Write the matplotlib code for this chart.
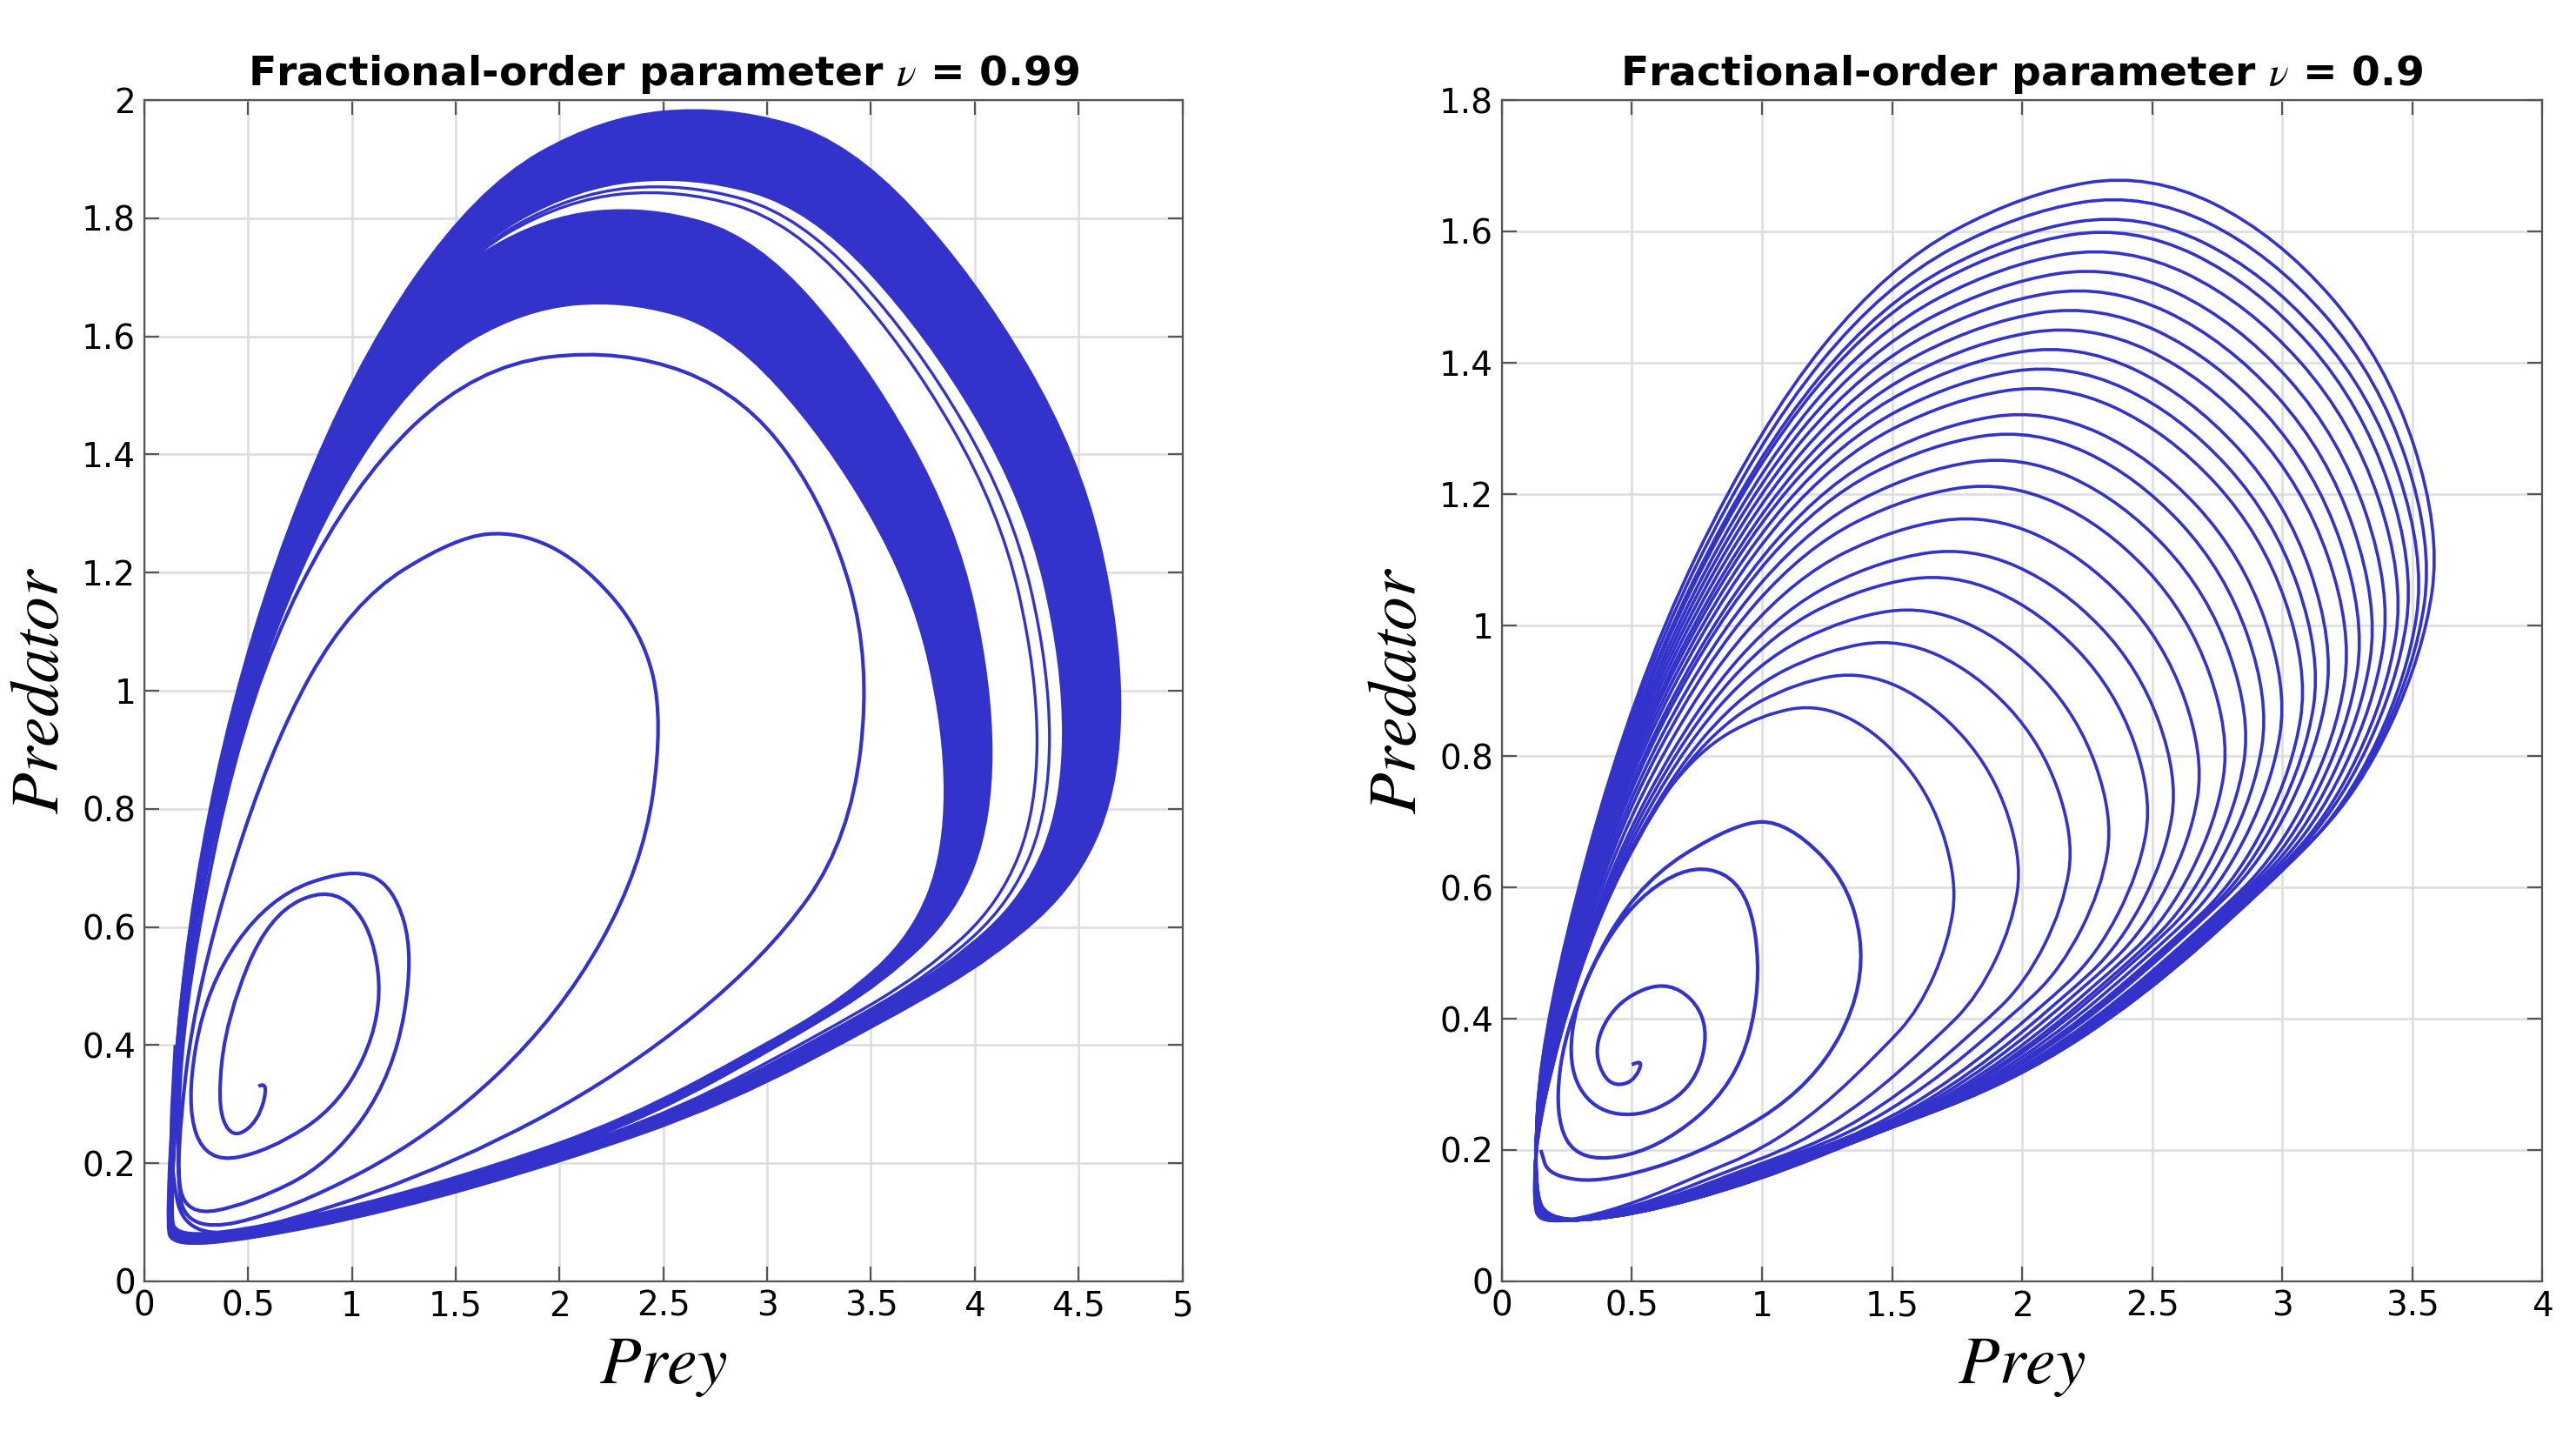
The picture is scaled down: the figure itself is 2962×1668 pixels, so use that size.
import matplotlib
matplotlib.use("Agg")
import matplotlib.pyplot as plt
from matplotlib.path import Path
from matplotlib.patches import PathPatch
import numpy as np

plt.rcParams['font.family'] = ['Liberation Sans Narrow', 'DejaVu Sans']
plt.rcParams['mathtext.fontset'] = 'stix'

BLUE = '#3333cc'

# normalised teardrop loop shapes (u across prey range, v across predator range)
left_loop_u = [0, 0.02, 0.087, 0.196, 0.326, 0.457, 0.587, 0.717, 0.848, 0.957, 1.0, 1.0, 0.957,
               0.87, 0.76, 0.587, 0.413, 0.239, 0.087, 0.01]
left_loop_v = [0.02, 0.28, 0.54, 0.77, 0.927, 0.99, 1.0, 0.969, 0.85, 0.694, 0.539, 0.41, 0.32,
               0.254, 0.2, 0.124, 0.073, 0.031, 0.005, 0]
right_loop_u = [0, 0.01, 0.11, 0.25, 0.39, 0.54, 0.68, 0.82, 0.94, 1.0, 0.98, 0.91, 0.82,
                0.68, 0.54, 0.39, 0.25, 0.11, 0.02]
right_loop_v = [0.03, 0.19, 0.51, 0.76, 0.91, 0.98, 1.0, 0.94, 0.82, 0.66, 0.54, 0.41, 0.33,
                0.22, 0.14, 0.09, 0.04, 0.006, 0]

# nu = 0.99 : early transient trajectory
left_x = [0.55, 0.6, 0.55, 0.42, 0.35, 0.4, 0.6, 0.9, 1.1, 1.15, 0.95, 0.6, 0.3, 0.2, 0.3, 0.6, 1.0,
          1.2, 1.3, 1.2, 0.9, 0.5, 0.2, 0.15, 0.25, 0.6, 1.0, 1.5, 1.8, 2.1, 2.4, 2.5, 2.4, 2.0, 1.4,
          0.7, 0.2, 0.15, 0.2, 0.5, 1.0, 1.6, 2.3, 2.9, 3.3, 3.5, 3.4, 3.0, 2.3, 1.5, 0.7, 0.2, 0.12, 0.15]
left_y = [0.33, 0.34, 0.27, 0.24, 0.3, 0.45, 0.62, 0.67, 0.6, 0.45, 0.3, 0.22, 0.2, 0.3, 0.5, 0.65, 0.70,
          0.67, 0.55, 0.35, 0.2, 0.13, 0.11, 0.2, 0.5, 0.9, 1.15, 1.26, 1.27, 1.22, 1.1, 0.95, 0.7, 0.45,
          0.25, 0.12, 0.08, 0.2, 0.5, 1.0, 1.35, 1.55, 1.58, 1.5, 1.3, 1.05, 0.75, 0.55, 0.35, 0.2, 0.1, 0.07, 0.2, 0.4]
# nu = 0.99 : dense bands (outer xmax, ymax / inner xmax, ymax)
left_bands = [((4.70, 1.99), (4.42, 1.87)), ((4.08, 1.82), (3.85, 1.66))]
left_lines = [(4.30, 1.85), (4.36, 1.86)]
left_xmin, left_ymin = 0.1, 0.06

# nu = 0.9 : inner spiral
right_x = [0.5, 0.55, 0.5, 0.4, 0.35, 0.45, 0.65, 0.8, 0.75, 0.55, 0.35, 0.25, 0.3, 0.5, 0.75, 0.95,
           1.0, 0.9, 0.6, 0.3, 0.2, 0.25, 0.5, 0.9, 1.1, 1.35, 1.4, 1.2, 0.8, 0.4, 0.18, 0.15]
right_y = [0.33, 0.34, 0.3, 0.3, 0.36, 0.43, 0.46, 0.4, 0.3, 0.25, 0.26, 0.33, 0.45, 0.58, 0.64, 0.6,
           0.45, 0.3, 0.2, 0.18, 0.25, 0.4, 0.6, 0.7, 0.7, 0.6, 0.45, 0.3, 0.2, 0.15, 0.16, 0.2]
# nu = 0.9 : loop extents (xmax, ymax)
right_loops = [(1.75, 0.88), (2.0, 0.93), (2.2, 0.98), (2.35, 1.03), (2.5, 1.08), (2.6, 1.12),
               (2.7, 1.17), (2.8, 1.22), (2.88, 1.26), (2.95, 1.3), (3.02, 1.33), (3.1, 1.37),
               (3.15, 1.4), (3.2, 1.43), (3.27, 1.46), (3.32, 1.49), (3.37, 1.52), (3.42, 1.55),
               (3.47, 1.58), (3.51, 1.61), (3.55, 1.63), (3.58, 1.66), (3.61, 1.69)]
right_xmin, right_ymin = 0.12, 0.09


def scaled(u, v, xmin, ymin, xmax, ymax):
    u = np.array(u)
    v = np.array(v)
    return xmin + u * (xmax - xmin), ymin + v * (ymax - ymin)


def smooth_path(x, y, closed):
    # quadratic Bezier path through midpoints, drawn by matplotlib
    p = np.column_stack([x, y])
    verts, codes = [], []
    if closed:
        n = len(p)
        verts.append((p[-1] + p[0]) / 2)
        codes.append(Path.MOVETO)
        for i in range(n):
            verts += [p[i], (p[i] + p[(i + 1) % n]) / 2]
            codes += [Path.CURVE3, Path.CURVE3]
    else:
        verts.append(p[0])
        codes.append(Path.MOVETO)
        for i in range(1, len(p) - 1):
            verts += [p[i], (p[i] + p[i + 1]) / 2]
            codes += [Path.CURVE3, Path.CURVE3]
        verts.append(p[-1])
        codes.append(Path.LINETO)
    return Path(verts, codes)


def draw(ax, x, y, closed=True, fill=None, lw=1.3, z=3):
    if fill:
        patch = PathPatch(smooth_path(x, y, closed), facecolor=fill, edgecolor=fill, lw=lw, zorder=z)
    else:
        patch = PathPatch(smooth_path(x, y, closed), facecolor='none', edgecolor=BLUE, lw=lw, zorder=z)
    ax.add_patch(patch)


def style(ax, xlim, ylim, xt, yt, title):
    ax.set_xlim(*xlim)
    ax.set_ylim(*ylim)
    ax.set_xticks(xt)
    ax.set_yticks(yt)
    ax.set_xticklabels([f"{t:g}" for t in xt])
    ax.set_yticklabels([f"{t:g}" for t in yt])
    ax.grid(True, color='#dddddd', lw=0.9)
    ax.set_axisbelow(True)
    ax.tick_params(direction='in', top=True, right=True, labelsize=14, length=6, color='#555555')
    for s in ax.spines.values():
        s.set_color('#555555')
    ax.set_title(title, fontsize=17, fontweight='bold')
    ax.set_xlabel('$Prey$', fontsize=28)
    ax.set_ylabel('$Predator$', fontsize=28)


fig = plt.figure(figsize=(14.81, 8.34), dpi=200)
ax1 = fig.add_axes([0.056, 0.117, 0.403, 0.814])
ax2 = fig.add_axes([0.583, 0.117, 0.404, 0.814])

for (ox, oy), (ix, iy) in left_bands:
    x, y = scaled(left_loop_u, left_loop_v, left_xmin, left_ymin, ox, oy)
    draw(ax1, x, y, fill=BLUE, lw=1, z=2)
    x, y = scaled(left_loop_u, left_loop_v, left_xmin + 0.03, left_ymin + 0.02, ix, iy)
    draw(ax1, x, y, fill='white', lw=0, z=2)
for ox, oy in left_lines:
    x, y = scaled(left_loop_u, left_loop_v, left_xmin + 0.02, left_ymin + 0.01, ox, oy)
    draw(ax1, x, y, lw=1.2)
draw(ax1, left_x, left_y, closed=False, lw=1.5)
style(ax1, (0, 5), (0, 2), np.arange(0, 5.01, 0.5), np.arange(0, 2.01, 0.2),
      r'Fractional-order parameter $\nu$ = 0.99')

for ox, oy in right_loops:
    x, y = scaled(right_loop_u, right_loop_v, right_xmin, right_ymin, ox, oy)
    draw(ax2, x, y, lw=1.3)
draw(ax2, right_x, right_y, closed=False, lw=1.5)
style(ax2, (0, 4), (0, 1.8), np.arange(0, 4.01, 0.5), np.arange(0, 1.81, 0.2),
      r'Fractional-order parameter $\nu$ = 0.9')

fig.savefig('out.png', dpi=200)
